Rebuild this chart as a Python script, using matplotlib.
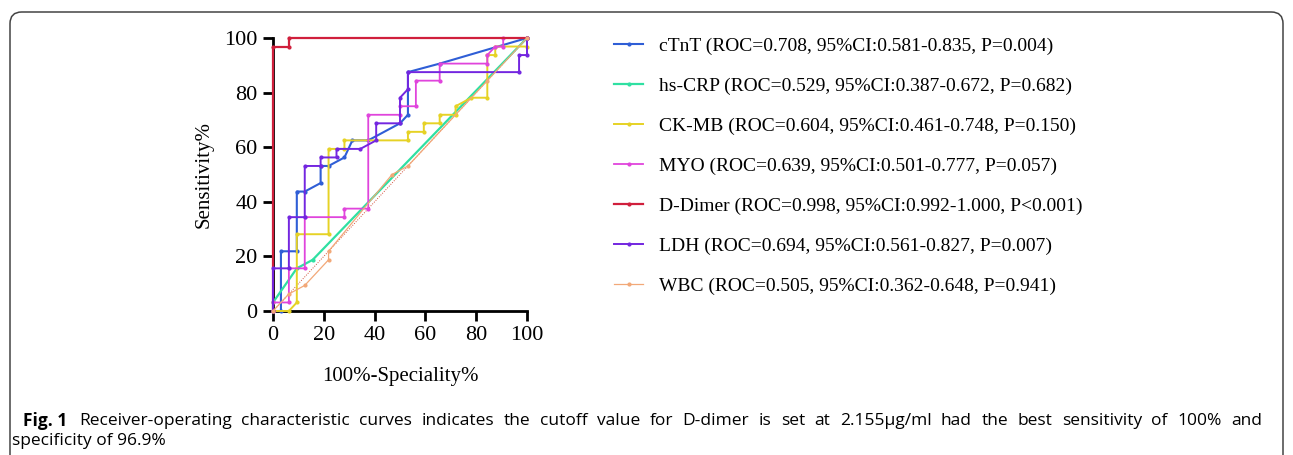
import matplotlib
matplotlib.use("Agg")
import matplotlib.pyplot as plt
from matplotlib.patches import FancyBboxPatch

# ROC curves (x = 100%-Speciality%, y = Sensitivity%)
ctnt_x = [0, 3.125, 3.125, 9.375, 9.375, 12.5, 18.75, 18.75, 21.875, 28.125, 31.25, 37.5, 50, 53.125, 53.125, 65.625, 100]
ctnt_y = [0, 0, 21.875, 21.875, 43.75, 43.75, 46.875, 53.125, 53.125, 56.25, 62.5, 62.5, 68.75, 71.875, 87.5, 90.625, 100]

hscrp_x = [0, 0, 9.375, 15.625, 100]
hscrp_y = [0, 3.125, 15.625, 18.75, 100]

ckmb_x = [0, 6.25, 9.375, 9.375, 21.875, 21.875, 28.125, 28.125, 53.125, 53.125, 59.375, 59.375, 65.625, 65.625,
          71.875, 71.875, 78.125, 84.375, 84.375, 87.5, 87.5, 100, 100]
ckmb_y = [0, 0, 3.125, 28.125, 28.125, 59.375, 59.375, 62.5, 62.5, 65.625, 65.625, 68.75, 68.75, 71.875,
          71.875, 75, 78.125, 78.125, 93.75, 93.75, 96.875, 96.875, 100]

myo_x = [0, 0, 6.25, 6.25, 12.5, 12.5, 28.125, 28.125, 37.5, 37.5, 50, 50, 56.25, 56.25, 65.625, 65.625,
         84.375, 84.375, 87.5, 90.625, 90.625, 100]
myo_y = [0, 3.125, 3.125, 15.625, 15.625, 34.375, 34.375, 37.5, 37.5, 71.875, 71.875, 75, 75, 84.375, 84.375, 90.625,
         90.625, 93.75, 96.875, 96.875, 100, 100]

ddimer_x = [0, 0, 6.25, 6.25, 100]
ddimer_y = [0, 96.875, 96.875, 100, 100]

ldh_x = [0, 0, 6.25, 6.25, 12.5, 12.5, 18.75, 18.75, 25, 25, 34.375, 40.625, 40.625, 50, 50, 53.125, 53.125,
         96.875, 96.875, 100, 100]
ldh_y = [0, 15.625, 15.625, 34.375, 34.375, 53.125, 53.125, 56.25, 56.25, 59.375, 59.375, 62.5, 68.75, 68.75, 78.125,
         81.25, 87.5, 87.5, 93.75, 93.75, 100]

wbc_x = [0, 6.25, 12.5, 21.875, 21.875, 46.875, 53.125, 84.375, 100]
wbc_y = [0, 6.25, 9.375, 18.75, 21.875, 50, 53.125, 84.375, 100]

ref_x = [0, 100]
ref_y = [0, 100]

labels = [
    "cTnT (ROC=0.708, 95%CI:0.581-0.835, P=0.004)",
    "hs-CRP (ROC=0.529, 95%CI:0.387-0.672, P=0.682)",
    "CK-MB (ROC=0.604, 95%CI:0.461-0.748, P=0.150)",
    "MYO (ROC=0.639, 95%CI:0.501-0.777, P=0.057)",
    "D-Dimer (ROC=0.998, 95%CI:0.992-1.000, P<0.001)",
    "LDH (ROC=0.694, 95%CI:0.561-0.827, P=0.007)",
    "WBC (ROC=0.505, 95%CI:0.362-0.648, P=0.941)",
]
colors = ["#2f5ed6", "#2fe0a2", "#e6d225", "#e044dc", "#d01f3c", "#7326e0", "#f2a878"]
ticks = [0, 20, 40, 60, 80, 100]

caption_bold = "Fig. 1"
caption_1 = ("Receiver-operating characteristic curves indicates the cutoff value for D-dimer is set at "
             "2.155\u03bcg/ml had the best sensitivity of 100% and")
caption_2 = "specificity of 96.9%"

W, H = 1293, 455
fig = plt.figure(figsize=(W / 100, H / 100), dpi=100)
fig.patches.append(FancyBboxPatch((10 / W, -0.2), 1273 / W, 1.2 - 12 / H,
                                  boxstyle="round,pad=0,rounding_size=0.009", transform=fig.transFigure,
                                  fill=False, ec="#444444", lw=1.1, mutation_aspect=W / H))

ax = fig.add_axes([273 / W, 1 - 311 / H, 254 / W, 273 / H])
ax.plot(ref_x, ref_y, color="#d2503a", lw=0.7, ls=(0, (1, 1.5)), clip_on=False, zorder=3)
series = [(ctnt_x, ctnt_y), (hscrp_x, hscrp_y), (ckmb_x, ckmb_y), (myo_x, myo_y),
          (ddimer_x, ddimer_y), (ldh_x, ldh_y), (wbc_x, wbc_y)]
widths = [1.5, 1.6, 1.4, 1.3, 1.6, 1.4, 0.9]
handles = []
for (xs, ys), c, lab, w in zip(series, colors, labels, widths):
    h, = ax.plot(xs, ys, color=c, lw=w, marker="o", ms=2, label=lab, clip_on=False, zorder=3)
    handles.append(h)

ax.set_xlim(0, 100)
ax.set_ylim(0, 100)
ax.set_xticks(ticks)
ax.set_yticks(ticks)
for s in ["top", "right"]:
    ax.spines[s].set_visible(False)
for s in ["left", "bottom"]:
    ax.spines[s].set_linewidth(2)
ax.tick_params(direction="out", length=7, width=2, pad=4, labelsize=16, labelfontfamily="Liberation Serif")
ax.set_xlabel("100%-Speciality%", fontsize=15, family="Liberation Serif", labelpad=16)
ax.set_ylabel("Sensitivity%", fontsize=15, family="Liberation Serif", labelpad=8)

fig.legend(handles=handles, loc="upper left", bbox_to_anchor=(614 / W, 1 - 37 / H), frameon=False,
           prop={"family": "Liberation Serif", "size": 14}, handlelength=1.5, handletextpad=0.8,
           labelspacing=1.15, borderpad=0, borderaxespad=0, numpoints=1)

# caption: bold tag, then first line justified between x=79 and x=1262
cap_size = 12.5
fig.text(23 / W, 1 - 421 / H, caption_bold, fontsize=cap_size, weight="bold", family="Open Sans", va="center")
words = caption_1.split()
word_texts = [fig.text(0, 1 - 421 / H, wd, fontsize=cap_size, family="Open Sans", va="center") for wd in words]
renderer = fig.canvas.get_renderer()
word_w = [t.get_window_extent(renderer).width for t in word_texts]
x0, x1 = 79, 1262
gap = (x1 - x0 - sum(word_w)) / (len(words) - 1)
xpos = x0
for t, wd in zip(word_texts, word_w):
    t.set_x(xpos / W)
    xpos += wd + gap
fig.text(12 / W, 1 - 441 / H, caption_2, fontsize=cap_size, family="Open Sans", va="center")

fig.savefig("out.png", dpi=100)
